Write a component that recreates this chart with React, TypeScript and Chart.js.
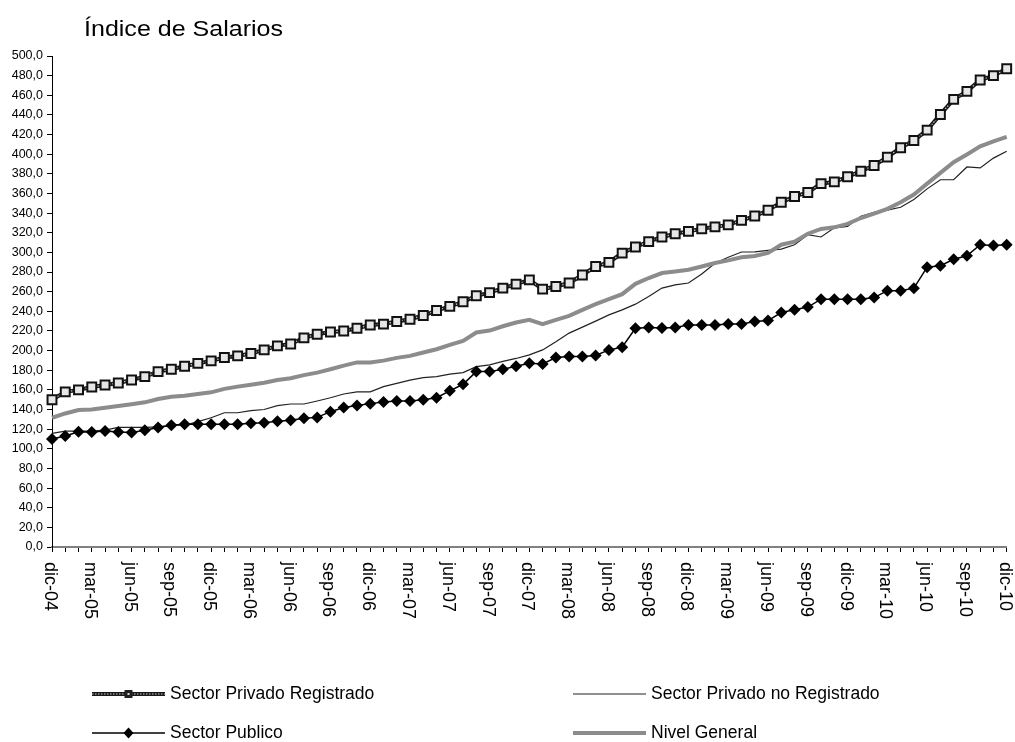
import React, { useEffect, useRef } from "react";
import { Chart, registerables } from "chart.js";

Chart.register(...registerables);

const LABELS = [
  "dic-04",
  "ene-05", "feb-05", "mar-05", "abr-05", "may-05", "jun-05", "jul-05", "ago-05", "sep-05", "oct-05", "nov-05", "dic-05",
  "ene-06", "feb-06", "mar-06", "abr-06", "may-06", "jun-06", "jul-06", "ago-06", "sep-06", "oct-06", "nov-06", "dic-06",
  "ene-07", "feb-07", "mar-07", "abr-07", "may-07", "jun-07", "jul-07", "ago-07", "sep-07", "oct-07", "nov-07", "dic-07",
  "ene-08", "feb-08", "mar-08", "abr-08", "may-08", "jun-08", "jul-08", "ago-08", "sep-08", "oct-08", "nov-08", "dic-08",
  "ene-09", "feb-09", "mar-09", "abr-09", "may-09", "jun-09", "jul-09", "ago-09", "sep-09", "oct-09", "nov-09", "dic-09",
  "ene-10", "feb-10", "mar-10", "abr-10", "may-10", "jun-10", "jul-10", "ago-10", "sep-10", "oct-10", "nov-10", "dic-10",
];

const PRIVADO_REGISTRADO = [
  150, 158, 160, 163, 165, 167, 170, 173.5, 178.6, 181, 184, 187, 189.5,
  193, 194.6, 197, 200.7, 204.8, 206.8, 213, 216.7, 219, 220, 222.8, 226,
  227, 229.6, 232, 235.7, 240.8, 245, 249.7, 255.8, 259, 263.6, 267.7, 272,
  262.6, 265.3, 268.8, 277, 285.7, 289.8, 299.3, 305.5, 311, 315.7, 319, 321.4,
  324, 326, 328, 332.6, 337, 342.9, 351, 357, 361, 370, 371.8, 377,
  382.7, 388.5, 397, 406.5, 414, 424.5, 440.5, 455.8, 464, 475.5, 480, 487,
];

const PRIVADO_NO_REGISTRADO = [
  115.7, 118, 118, 118, 119, 121.8, 121.8, 121.8, 122.4, 124, 124, 127.6, 131.6,
  136.7, 136.7, 138.8, 140, 143.9, 145.6, 145.6, 148.7, 152, 155.8, 158, 158,
  163.3, 166.7, 170, 172.4, 173.5, 176, 177.6, 183.7, 185.4, 189, 192, 195.6,
  200.7, 209, 217.8, 223.9, 230, 236.4, 241.5, 247.3, 255, 263.7, 267, 268.8,
  278, 289, 295, 300.4, 300.5, 302, 303.4, 307.8, 318, 315.7, 325, 326.5,
  336.7, 340.8, 343, 346, 353.8, 364.7, 374, 374, 387, 386, 396, 403,
];

const SECTOR_PUBLICO = [
  110, 113, 117.3, 117, 118, 117, 116.7, 119, 121.8, 124, 125, 125, 125,
  125, 125, 126, 126.5, 128, 129, 131, 132, 137.8, 142, 144, 146,
  147.6, 148.7, 148.7, 150, 152, 159, 165.7, 178.6, 178.6, 181, 184, 187,
  186.4, 193, 194, 194, 195, 200.7, 203.5, 222.8, 223.5, 223, 223.5, 226,
  226, 226, 227, 227, 229.6, 230.6, 238.8, 241.5, 244.3, 252.4, 252.4, 252.4,
  252.4, 254, 261, 261, 263.6, 285, 286.4, 293, 296.6, 307.8, 307, 307.8,
];

const NIVEL_GENERAL = [
  131.6, 136, 139.5, 140, 141.8, 143.6, 145.3, 147.3, 150.7, 153, 154, 155.8, 157.5,
  161, 163.3, 165.3, 167.3, 170, 171.8, 175, 177.6, 181, 184.7, 188, 188,
  189.8, 192.6, 194.6, 198, 201.4, 205.8, 209.9, 218.4, 220.4, 224.8, 228.6, 231.3,
  227, 231.3, 235.4, 241.5, 247.3, 252.4, 257.5, 268, 273.9, 279, 280.6, 282.3,
  285.7, 289.2, 291.9, 295, 296.3, 299.4, 307.8, 311, 319, 323.9, 325.5, 329,
  335, 339.5, 344.3, 351, 358.9, 370, 381, 391.8, 399.7, 408, 413, 417.7,
];

const TITLE = "Índice de Salarios";
const SERIES_NAMES = [
  "Sector Privado Registrado",
  "Sector Privado no Registrado",
  "Sector Publico",
  "Nivel General",
];

const FONT = "'Liberation Sans', Arial, sans-serif";

const overlayPlugin = {
  id: "overlay",
  afterDraw(chart: any) {
    const ctx = chart.ctx as CanvasRenderingContext2D;
    const xs = chart.scales.x;
    ctx.save();
    // Title
    ctx.fillStyle = "#000";
    ctx.font = `22px ${FONT}`;
    ctx.textBaseline = "alphabetic";
    ctx.textAlign = "left";
    const tw = ctx.measureText(TITLE).width;
    ctx.save();
    ctx.translate(84, 36);
    ctx.scale(199 / tw, 1);
    ctx.fillText(TITLE, 0, 0);
    ctx.restore();

    // X labels, rotated clockwise, every 3 months
    ctx.font = `18px ${FONT}`;
    ctx.textBaseline = "middle";
    ctx.textAlign = "left";
    for (let i = 0; i < LABELS.length; i += 3) {
      const x = xs.getPixelForValue(i);
      ctx.save();
      ctx.translate(x - 2, 562);
      ctx.rotate(Math.PI / 2);
      ctx.fillText(LABELS[i], 0, 0);
      ctx.restore();
    }

    // Legend
    const rows = [694, 733];
    const cols = [92, 573];
    const lineLen = 73;
    ctx.font = `17.5px ${FONT}`;
    ctx.textBaseline = "middle";
    const drawSymbol = (k: number, x0: number, y: number) => {
      const x1 = x0 + lineLen;
      const xm = (x0 + x1) / 2;
      ctx.save();
      if (k === 0) {
        ctx.strokeStyle = "#1a1a1a";
        ctx.lineWidth = 4;
        ctx.beginPath(); ctx.moveTo(x0, y); ctx.lineTo(x1, y); ctx.stroke();
        ctx.strokeStyle = "#cfcfcf";
        ctx.lineWidth = 1.2;
        ctx.setLineDash([1.5, 1.5]);
        ctx.beginPath(); ctx.moveTo(x0, y); ctx.lineTo(x1, y); ctx.stroke();
        ctx.setLineDash([]);
        ctx.fillStyle = "#222";
        ctx.fillRect(xm - 4, y - 4, 8, 8);
        ctx.fillStyle = "#ddd";
        ctx.fillRect(xm - 1, y - 1, 2, 2);
      } else if (k === 1) {
        ctx.strokeStyle = "#222";
        ctx.lineWidth = 1.2;
        ctx.beginPath(); ctx.moveTo(x0, y); ctx.lineTo(x1, y); ctx.stroke();
      } else if (k === 2) {
        ctx.strokeStyle = "#000";
        ctx.lineWidth = 1.5;
        ctx.beginPath(); ctx.moveTo(x0, y); ctx.lineTo(x1, y); ctx.stroke();
        ctx.fillStyle = "#000";
        ctx.beginPath();
        ctx.moveTo(xm - 5, y); ctx.lineTo(xm, y - 5.5); ctx.lineTo(xm + 5, y); ctx.lineTo(xm, y + 5.5);
        ctx.closePath(); ctx.fill();
      } else {
        ctx.strokeStyle = "#8c8c8c";
        ctx.lineWidth = 4;
        ctx.beginPath(); ctx.moveTo(x0, y); ctx.lineTo(x1, y); ctx.stroke();
      }
      ctx.restore();
    };
    SERIES_NAMES.forEach((name, k) => {
      const r = Math.floor(k / 2);
      const c = k % 2;
      const x0 = cols[c];
      const y = rows[r];
      drawSymbol(k, x0, y);
      ctx.fillStyle = "#000";
      ctx.fillText(name, x0 + lineLen + 5, y);
    });
    ctx.restore();
  },
};

export default function App() {
  const canvasRef = useRef<HTMLCanvasElement | null>(null);

  useEffect(() => {
    document.body.style.margin = "0";
    const canvas = canvasRef.current;
    if (!canvas) return;
    const chart = new Chart(canvas, {
      type: "line",
      data: {
        labels: LABELS,
        datasets: [
          {
            label: SERIES_NAMES[0] + " (base)",
            data: PRIVADO_REGISTRADO,
            borderColor: "#1a1a1a",
            borderWidth: 4,
            pointRadius: 0,
            tension: 0,
            order: 1,
          },
          {
            label: SERIES_NAMES[0],
            data: PRIVADO_REGISTRADO,
            borderColor: "#cfcfcf",
            borderWidth: 1.2,
            borderDash: [1.5, 1.5],
            pointStyle: "rect",
            pointRadius: 6.3,
            pointBackgroundColor: "#e6e6e6",
            pointBorderColor: "#111",
            pointBorderWidth: 2,
            tension: 0,
            order: 0,
          },
          {
            label: SERIES_NAMES[1],
            data: PRIVADO_NO_REGISTRADO,
            borderColor: "#222",
            borderWidth: 1.2,
            pointRadius: 0,
            tension: 0,
            order: 4,
          },
          {
            label: SERIES_NAMES[2],
            data: SECTOR_PUBLICO,
            borderColor: "#000",
            borderWidth: 1.5,
            pointStyle: "rectRot",
            pointRadius: 6,
            pointBackgroundColor: "#000",
            pointBorderColor: "#000",
            pointBorderWidth: 0,
            tension: 0,
            order: 2,
          },
          {
            label: SERIES_NAMES[3],
            data: NIVEL_GENERAL,
            borderColor: "#8c8c8c",
            borderWidth: 4,
            pointRadius: 0,
            tension: 0,
            order: 3,
          },
        ],
      },
      options: {
        animation: false,
        responsive: true,
        maintainAspectRatio: false,
        events: [],
        layout: { padding: { left: 0, right: 6, top: 56, bottom: 0 } },
        plugins: {
          legend: { display: false },
          title: { display: false },
          tooltip: { enabled: false },
        },
        scales: {
          x: {
            type: "category",
            offset: false,
            ticks: { display: false, autoSkip: false },
            grid: {
              display: true,
              drawOnChartArea: false,
              drawTicks: true,
              tickLength: 5,
              color: "#000",
              lineWidth: 1,
            },
            border: { display: true, color: "#808080", width: 2 },
            afterFit: (scale: any) => {
              scale.height = 195;
            },
          },
          y: {
            min: 0,
            max: 500,
            ticks: {
              stepSize: 20,
              padding: 4,
              color: "#000",
              font: { family: FONT, size: 12.5 },
              callback: (v: any) => Number(v).toFixed(1).replace(".", ","),
            },
            grid: {
              display: true,
              drawOnChartArea: false,
              drawTicks: true,
              tickLength: 5,
              color: "#000",
            },
            border: { display: true, color: "#000", width: 1 },
            afterFit: (scale: any) => {
              scale.width = 52;
            },
          },
        },
      },
      plugins: [overlayPlugin],
    });
    return () => chart.destroy();
  }, []);

  return (
    <div style={{ position: "absolute", left: 0, top: 0, width: 1015, height: 742, background: "#fff" }}>
      <canvas ref={canvasRef} />
    </div>
  );
}
